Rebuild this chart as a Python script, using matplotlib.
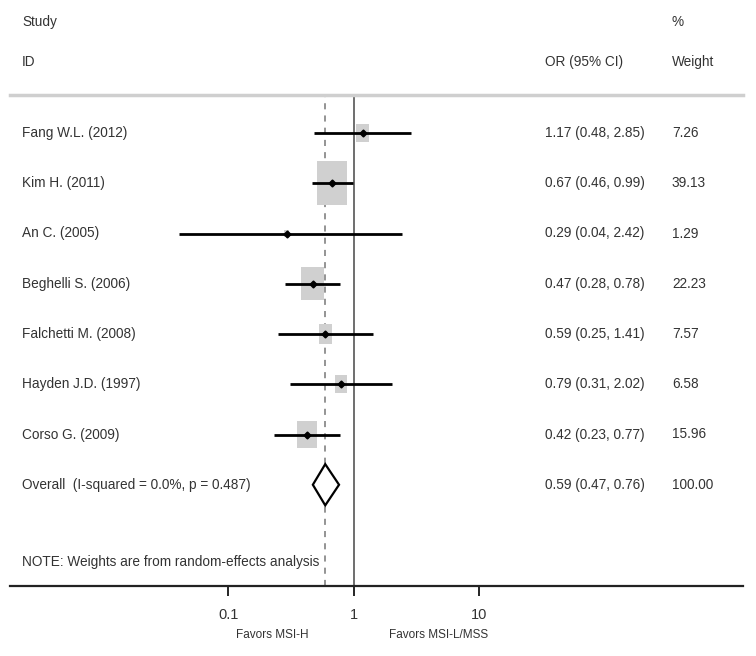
import matplotlib
matplotlib.use("Agg")
import matplotlib.pyplot as plt
import matplotlib.transforms as mtransforms
from matplotlib.patches import Rectangle, Polygon
import numpy as np

# --- data ---
studies = ["Fang W.L. (2012)", "Kim H. (2011)", "An C. (2005)", "Beghelli S. (2006)",
           "Falchetti M. (2008)", "Hayden J.D. (1997)", "Corso G. (2009)"]
odds = [1.17, 0.67, 0.29, 0.47, 0.59, 0.79, 0.42]
lower = [0.48, 0.46, 0.04, 0.28, 0.25, 0.31, 0.23]
upper = [2.85, 0.99, 2.42, 0.78, 1.41, 2.02, 0.77]
weights = [7.26, 39.13, 1.29, 22.23, 7.57, 6.58, 15.96]

overall_label = "Overall  (I-squared = 0.0%, p = 0.487)"
overall_or = 0.59
overall_lo = 0.47
overall_hi = 0.76

ticks = [0.1, 1, 10]
tick_labels = ["0.1", "1", "10"]

# --- fonts ---
plt.rcParams['font.family'] = ['Liberation Sans', 'DejaVu Sans']
txt_color = '#333333'
fs = 9.8

W, H = 756, 656
fig = plt.figure(figsize=(W / 100, H / 100), dpi=100)

# pixel layout of the plotting strip
left_px, right_px = 10, 743
top_px, bottom_px = 95, 586
one_px = 354          # where OR = 1 sits
decade_px = 125.5     # pixels per decade
row0_px, row_step = 133, 50.25

ax = fig.add_axes([left_px / W, 1 - bottom_px / H,
                   (right_px - left_px) / W, (bottom_px - top_px) / H])
ax.set_xscale('log')
ax.set_xlim(10 ** ((left_px - one_px) / decade_px), 10 ** ((right_px - one_px) / decade_px))
ax.set_ylim((bottom_px - row0_px) / row_step, (top_px - row0_px) / row_step)

for s in ['left', 'right', 'top']:
    ax.spines[s].set_visible(False)
ax.spines['bottom'].set_linewidth(1.6)
ax.spines['bottom'].set_color('#222222')
ax.set_yticks([])
ax.set_xticks(ticks)
ax.set_xticklabels(tick_labels)
ax.minorticks_off()
ax.tick_params(axis='x', length=7, width=1.2, pad=9, labelsize=10.5, labelcolor=txt_color)

# top grey rule
ax.axhline(ax.get_ylim()[1], color='#cfcfcf', lw=2.5, clip_on=False)

# reference lines
ax.axvline(1, color='#555555', lw=1.2, zorder=1)
ax.axvline(overall_or, color='#777777', lw=1.1, ls=(0, (4, 4)), zorder=1)

# study rows
box_k = 4.9      # px of box width per sqrt(weight)
box_aspect = 1.42
for i in range(len(studies)):
    wpx = box_k * np.sqrt(weights[i])
    hw = (wpx / 2) / decade_px
    hh = (wpx * box_aspect / 2) / row_step
    x0 = odds[i] * 10 ** (-hw)
    x1 = odds[i] * 10 ** (hw)
    ax.add_patch(Rectangle((x0, i - hh), x1 - x0, 2 * hh, facecolor='#d0d0d0',
                           edgecolor='none', zorder=2))
    ax.plot([lower[i], upper[i]], [i, i], color='black', lw=2, zorder=3,
            solid_capstyle='butt')
    ax.plot(odds[i], i, marker='D', color='black', ms=3.5, zorder=4)

# overall diamond
yo = len(studies)
dh = 0.41
ax.add_patch(Polygon([(overall_lo, yo), (overall_or, yo - dh), (overall_hi, yo),
                      (overall_or, yo + dh)], closed=True, facecolor='white',
                     edgecolor='black', lw=1.6, zorder=4))

# text columns: figure x, data y
tr = mtransforms.blended_transform_factory(fig.transFigure, ax.transData)
lab_x = 22 / W
or_x = 545 / W
wt_x = 672 / W

for i in range(len(studies)):
    fig.text(lab_x, i, studies[i], transform=tr, va='center', fontsize=fs, color=txt_color)
    fig.text(or_x, i, "%.2f (%.2f, %.2f)" % (odds[i], lower[i], upper[i]),
             transform=tr, va='center', fontsize=fs, color=txt_color)
    fig.text(wt_x, i, "%.2f" % weights[i], transform=tr, va='center', fontsize=fs,
             color=txt_color)

fig.text(lab_x, yo, overall_label, transform=tr, va='center', fontsize=fs, color=txt_color)
fig.text(or_x, yo, "%.2f (%.2f, %.2f)" % (overall_or, overall_lo, overall_hi),
         transform=tr, va='center', fontsize=fs, color=txt_color)
fig.text(wt_x, yo, "100.00", transform=tr, va='center', fontsize=fs, color=txt_color)

# headers and note (figure pixel positions)
fig.text(lab_x, 1 - 22 / H, "Study", va='center', fontsize=fs, color=txt_color)
fig.text(lab_x, 1 - 62 / H, "ID", va='center', fontsize=fs, color=txt_color)
fig.text(or_x, 1 - 62 / H, "OR (95% CI)", va='center', fontsize=fs, color=txt_color)
fig.text(wt_x, 1 - 22 / H, "%", va='center', fontsize=fs, color=txt_color)
fig.text(wt_x, 1 - 62 / H, "Weight", va='center', fontsize=fs, color=txt_color)
fig.text(lab_x, 1 - 562 / H, "NOTE: Weights are from random-effects analysis",
         va='center', fontsize=fs, color=txt_color)

# favours labels under the axis
fig.text(272 / W, 1 - 635 / H, "Favors MSI-H", ha='center', va='center',
         fontsize=8.5, color=txt_color)
fig.text(439 / W, 1 - 635 / H, "Favors MSI-L/MSS", ha='center', va='center',
         fontsize=8.5, color=txt_color)

fig.savefig("out.png", dpi=100, facecolor='white')
